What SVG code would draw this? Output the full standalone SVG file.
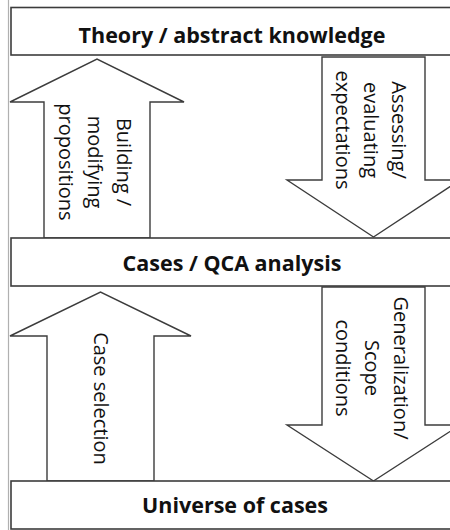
<svg xmlns="http://www.w3.org/2000/svg" width="450" height="530" viewBox="0 0 450 530">
<style>
.box{fill:#fff;stroke:#3c3c3c;stroke-width:1.6}
.arr{fill:#fff;stroke:#3c3c3c;stroke-width:1.4;stroke-linejoin:miter}
.title{font-family:"Open Sans","Liberation Sans",sans-serif;font-weight:bold;font-size:21.5px;fill:#111;text-anchor:middle}
.lbl{font-family:"Open Sans","Liberation Sans",sans-serif;font-size:20px;fill:#111;text-anchor:middle}
</style>
<rect width="450" height="530" fill="#fff"/>
<line x1="8.5" y1="0" x2="8.5" y2="530" stroke="#b0b0b0" stroke-width="1.2"/>
<g id="connectors">
  <g id="arrow-building">
    <polygon class="arr" points="44,238 44,102 10,102 97,59 184,102 150,102 150,238"/>
    <text class="lbl" transform="translate(0,162) rotate(90)"><tspan x="0" y="-117">Building /</tspan><tspan x="0" y="-88">modifying</tspan><tspan x="0" y="-59">propositions</tspan></text>
  </g>
  <g id="arrow-assessing">
    <polygon class="arr" points="322,57 425,57 425,180 460,180 373.5,237 287,180 322,180"/>
    <text class="lbl" transform="translate(0,130) rotate(90)"><tspan x="0" y="-392">Assessing/</tspan><tspan x="0" y="-364">evaluating</tspan><tspan x="0" y="-336">expectations</tspan></text>
  </g>
  <g id="arrow-case-selection">
    <polygon class="arr" points="47,481 47,336 10,336 100.5,292 191,336 154,336 154,481"/>
    <text class="lbl" transform="translate(0,398.5) rotate(90)"><tspan x="0" y="-93.5">Case selection</tspan></text>
  </g>
  <g id="arrow-generalization">
    <polygon class="arr" points="322,287 425,287 425,425 460,425 373.5,481 287,425 322,425"/>
    <text class="lbl" transform="translate(0,368) rotate(90)"><tspan x="0" y="-394">Generalization/</tspan><tspan x="0" y="-365">Scope</tspan><tspan x="0" y="-336">conditions</tspan></text>
  </g>
</g>
<g id="node-theory">
  <rect class="box" x="11" y="7.5" width="460" height="47.5"/>
  <text class="title" x="232" y="43">Theory / abstract knowledge</text>
</g>
<g id="node-cases">
  <rect class="box" x="11" y="238" width="460" height="48"/>
  <text class="title" x="232" y="271">Cases / QCA analysis</text>
</g>
<g id="node-universe">
  <rect class="box" x="11" y="481" width="460" height="48"/>
  <text class="title" x="235" y="513">Universe of cases</text>
</g>
</svg>
